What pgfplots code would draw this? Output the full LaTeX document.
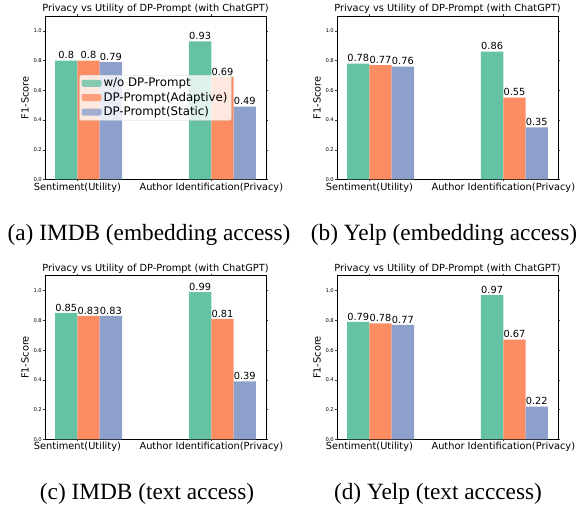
\documentclass[border=0pt]{standalone}
\usepackage{fontspec}
\setmainfont{DejaVu Sans}
\newfontfamily\capfont{Liberation Serif}
\usepackage{pgfplots}
\pgfplotsset{compat=1.18}

\definecolor{cg}{HTML}{66C2A5}
\definecolor{co}{HTML}{FC8D62}
\definecolor{cb}{HTML}{8DA0CB}

\newcommand{\mf}{\fontsize{9.8}{11}\selectfont}
\newcommand{\lf}{\fontsize{11.8}{13}\selectfont}

\pgfplotsset{
  dpstyle/.style={
    scale only axis, width=221pt, height=163.5pt,
    xmin=-0.1583, xmax=1.4917, ymin=0, ymax=1.1,
    axis line style={black, line width=0.9pt},
    tick align=outside, major tick length=2pt,
    tick style={black!80, line width=0.5pt},
    xtick={0.0833,1.0833},
    xticklabels={Sentiment(Utility),Author Identification(Privacy)},
    xticklabel style={font=\mf, inner sep=1pt},
    ytick={0,0.2,0.4,0.6,0.8,1.0},
    yticklabel style={font=\fontsize{5.2}{6}\selectfont, inner sep=1pt,
      /pgf/number format/.cd, fixed, fixed zerofill, precision=1, assume math mode=true},
    ylabel={F1-Score},
    ylabel style={at={(axis description cs:-0.0905,0.5)}, anchor=center, font=\mf},
    title={Privacy vs Utility of DP-Prompt (with ChatGPT)},
    title style={at={(axis description cs:0.5,1)}, anchor=base, yshift=-2pt, font=\mf},
    every node near coord/.style={font=\mf, black, anchor=south, inner sep=0pt, yshift=1.5pt},
  },
  barg/.style={ybar, bar width=0.16667, bar shift=0pt, fill=cg, draw=none,
    nodes near coords, point meta=explicit symbolic,
    legend image code/.code={\fill[cg] (0pt,-3.5pt) rectangle (20pt,3.5pt);}},
  baro/.style={ybar, bar width=0.16667, bar shift=0pt, fill=co, draw=none,
    nodes near coords, point meta=explicit symbolic,
    legend image code/.code={\fill[co] (0pt,-3.5pt) rectangle (20pt,3.5pt);}},
  barb/.style={ybar, bar width=0.16667, bar shift=0pt, fill=cb, draw=none,
    nodes near coords, point meta=explicit symbolic,
    legend image code/.code={\fill[cb] (0pt,-3.5pt) rectangle (20pt,3.5pt);}},
}

\begin{document}
\begin{tikzpicture}
\useasboundingbox (0,0) rectangle (581pt,504pt);

% (a) IMDB embedding
\begin{axis}[dpstyle, at={(45pt,324.5pt)}, anchor=south west,
  legend style={at={(axis description cs:0.5,0.5)}, anchor=center,
    fill=white, fill opacity=0.8, draw opacity=1, text opacity=1,
    draw=black!20, rounded corners=2pt,
    font=\lf,
    inner xsep=2pt, inner ysep=1pt, row sep=0pt,
    /tikz/every even column/.append style={column sep=4pt}},
  legend cell align=left]
\addplot[barg] coordinates {(0,0.80) [0.8] (1,0.93) [0.93]};
\addlegendentry{w/o DP-Prompt}
\addplot[baro] coordinates {(0.16667,0.80) [0.8] (1.16667,0.69) [0.69]};
\addlegendentry{DP-Prompt(Adaptive)}
\addplot[barb] coordinates {(0.33333,0.79) [0.79] (1.33333,0.49) [0.49]};
\addlegendentry{DP-Prompt(Static)}
\end{axis}

% (b) Yelp embedding
\begin{axis}[dpstyle, at={(337pt,324.5pt)}, anchor=south west]
\addplot[barg] coordinates {(0,0.78) [0.78] (1,0.86) [0.86]};
\addplot[baro] coordinates {(0.16667,0.77) [0.77] (1.16667,0.55) [0.55]};
\addplot[barb] coordinates {(0.33333,0.76) [0.76] (1.33333,0.35) [0.35]};
\end{axis}

% (c) IMDB text
\begin{axis}[dpstyle, at={(45pt,64.7pt)}, anchor=south west]
\addplot[barg] coordinates {(0,0.85) [0.85] (1,0.99) [0.99]};
\addplot[baro] coordinates {(0.16667,0.83) [0.83] (1.16667,0.81) [0.81]};
\addplot[barb] coordinates {(0.33333,0.83) [0.83] (1.33333,0.39) [0.39]};
\end{axis}

% (d) Yelp text
\begin{axis}[dpstyle, at={(337pt,64.7pt)}, anchor=south west]
\addplot[barg] coordinates {(0,0.79) [0.79] (1,0.97) [0.97]};
\addplot[baro] coordinates {(0.16667,0.78) [0.78] (1.16667,0.67) [0.67]};
\addplot[barb] coordinates {(0.33333,0.77) [0.77] (1.33333,0.22) [0.22]};
\end{axis}

\node[anchor=base, font=\capfont\fontsize{23.3}{26}\selectfont] at (149pt,263.3pt) {(a) IMDB (embedding access)};
\node[anchor=base, font=\capfont\fontsize{23.3}{26}\selectfont] at (444pt,263.3pt) {(b) Yelp (embedding access)};
\node[anchor=base, font=\capfont\fontsize{23.3}{26}\selectfont] at (147pt,4.5pt) {(c) IMDB (text access)};
\node[anchor=base, font=\capfont\fontsize{23.3}{26}\selectfont] at (438pt,4.5pt) {(d) Yelp (text acccess)};
\end{tikzpicture}
\end{document}
